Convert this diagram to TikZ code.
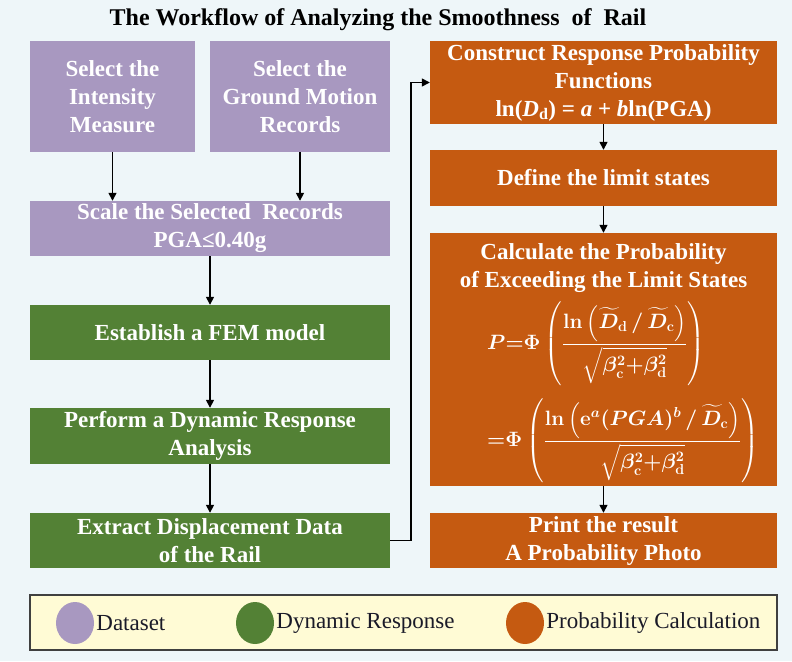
\documentclass[tikz,border=0pt]{standalone}
\usepackage{amsmath,amssymb}
\usepackage[no-math]{fontspec}
\setmainfont{Liberation Serif}
\usetikzlibrary{arrows.meta,positioning,calc,shapes.geometric}
\definecolor{Paper}{HTML}{EEF6F9}
\definecolor{Lilac}{HTML}{A898C0}
\definecolor{Moss}{HTML}{538135}
\definecolor{Rust}{HTML}{C55A11}
\definecolor{KeyFill}{HTML}{FFFBD5}
\definecolor{KeyEdge}{HTML}{404040}
\definecolor{KeyInk}{HTML}{1A1A28}
\tikzset{
  >={Triangle[length=8pt,width=8pt]},
  box/.style={rectangle,draw=none,text=white,font=\bfseries\fontsize{23}{28}\selectfont,align=center,inner sep=2pt},
  data/.style={box,fill=Lilac},
  dyn/.style={box,fill=Moss},
  prob/.style={box,fill=Rust},
  flow/.style={->,line width=1.5pt,draw=black},
  eqn/.style={anchor=west,text=white,inner sep=0pt,font=\fontsize{20}{24}\selectfont\boldmath},
  key/.style={ellipse,draw=none,minimum width=38pt,minimum height=42pt,inner sep=0pt},
  keytext/.style={font=\fontsize{23}{28}\selectfont,text=KeyInk,inner sep=0pt}
}
\newcommand{\betasum}{\sqrt{\beta_{\mathrm{c}}^{2}{+}\beta_{\mathrm{d}}^{2}}}

\begin{document}
\begin{tikzpicture}[x=1pt,y=-1pt]
    \fill[Paper] (0,0) rectangle (792,661);
    \useasboundingbox (0,0) rectangle (792,661);
    \node[font=\bfseries\fontsize{24}{28}\selectfont] (title) at (378,20) {The Workflow of Analyzing the Smoothness\ \ of\ \ Rail};
    \node[data,minimum width=165pt,minimum height=111pt] (im) at (112.5,96.5) {Select the\\Intensity\\Measure};
    \node[data,minimum width=180pt,minimum height=111pt] (gm) at (300,96.5) {Select the\\Ground Motion\\Records};
    \node[data,minimum width=360pt,minimum height=55pt] (sc) at (210,228.5) {Scale the Selected\ \ Records\\PGA≤0.40g};
    \node[dyn,minimum width=360pt,minimum height=55pt] (fem) at (210,332.5) {Establish a FEM model};
    \node[dyn,minimum width=360pt,minimum height=56pt] (dr) at (210,436) {Perform a Dynamic Response\\Analysis};
    \node[dyn,minimum width=360pt,minimum height=55pt] (ex) at (210,540.5) {Extract Displacement Data\\of the Rail};
    \node[prob,minimum width=347pt,minimum height=83pt] (rp) at (603.5,82.5) {Construct Response Probability\\Functions\\ln(\textit{D}\textsubscript{d}) = \textit{a} + \textit{b}ln(PGA)};
    \node[prob,minimum width=347pt,minimum height=56pt] (ls) at (603.5,178) {Define the limit states};
    \node[prob,minimum width=347pt,minimum height=253pt] (pc) at (603.5,359.5) {};
    \node[box] (pct) at (603.5,268) {Calculate the Probability\\of Exceeding the Limit States};
    \node[eqn] (eq1) at (487,344) {$\boldsymbol{P}{=}\Phi\left(\dfrac{\mathrm{ln}\left(\widetilde{D}_{\mathrm{d}}\,/\,\widetilde{D}_{\mathrm{c}}\right)}{\betasum}\right)$};
    \node[eqn] (eq2) at (487,441) {${=}\Phi\left(\dfrac{\mathrm{ln}\left(\mathrm{e}^{a}(PGA)^{b}\,/\,\widetilde{D}_{\mathrm{c}}\right)}{\betasum}\right)$};
    \node[prob,minimum width=347pt,minimum height=55pt] (pr) at (603.5,540.5) {Print the result\\A Probability Photo};
    \draw[flow] (im.south) -- (im.south |- sc.north);
    \draw[flow] (gm.south) -- (gm.south |- sc.north);
    \draw[flow] (sc) -- (fem);
    \draw[flow] (fem) -- (dr);
    \draw[flow] (dr) -- (ex);
    \draw[flow] (ex.east) -- ($(ex.east)+(21,0)$) |- (rp.west);
    \draw[flow] (rp) -- (ls);
    \draw[flow] (ls) -- (pc);
    \draw[flow] (pc) -- (pr);
    \node[rectangle,fill=KeyFill,draw=KeyEdge,line width=1.2pt,minimum width=747pt,minimum height=55pt] (leg) at (403.5,622.5) {};
    \node[key,fill=Lilac] (k1) at (75,623) {};
    \node[key,fill=Moss] (k2) at (255,623) {};
    \node[key,fill=Rust] (k3) at (525,623) {};
    \node[keytext,right=2pt of k1] (t1) {Dataset};
    \node[keytext,right=2pt of k2] (t2) {Dynamic Response};
    \node[keytext,right=2pt of k3] (t3) {Probability Calculation};
  \end{tikzpicture}
\end{document}
